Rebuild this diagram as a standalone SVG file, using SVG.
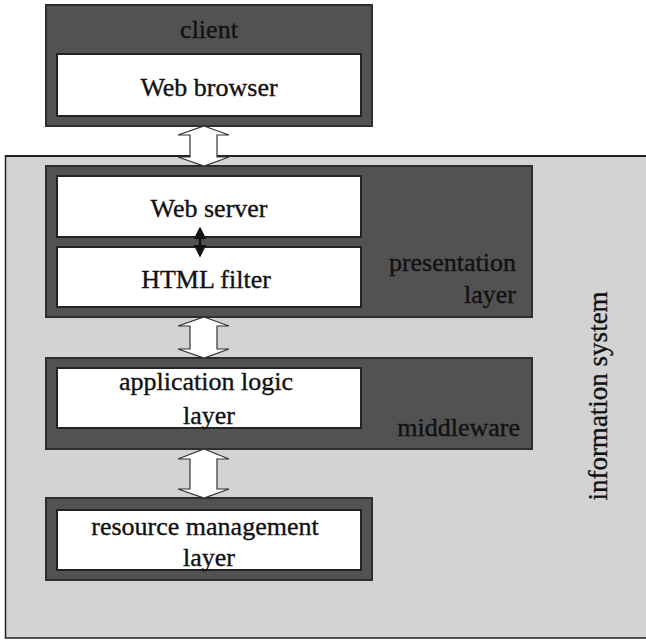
<svg xmlns="http://www.w3.org/2000/svg" width="646" height="640" viewBox="0 0 646 640">
<style>
.dark{fill:#525252;stroke:#2e2e2e;stroke-width:2}
.white{fill:#ffffff;stroke:#222222;stroke-width:2}
.t{font-family:"Liberation Serif","Times New Roman",serif;font-size:26px;fill:#111;stroke:#111;stroke-width:0.35}
.c{text-anchor:middle}
.r{text-anchor:end}
.blk{fill:#ffffff;stroke:#333333;stroke-width:1.2}
</style>
<defs>
<marker id="ah" viewBox="0 0 10 10" refX="8" refY="5" markerWidth="5" markerHeight="5" orient="auto-start-reverse"><path d="M0,0 L10,5 L0,10 z" fill="#111"/></marker>
</defs>
<rect width="646" height="640" fill="#ffffff"/>
<g id="information-system">
<rect x="5.5" y="156" width="650" height="482" fill="#d3d3d3" stroke="#222" stroke-width="1.5"/>
<line x1="5" y1="156" x2="646" y2="156" stroke="#222" stroke-width="2"/>
<text class="t c" transform="translate(607,396) rotate(-90)" style="font-size:27px">information system</text>
</g>
<g id="client">
<rect class="dark" x="46" y="5" width="326" height="121"/>
<text class="t c" x="209" y="38">client</text>
</g>
<g id="web-browser">
<rect class="white" x="57" y="54" width="304" height="62"/>
<text class="t c" x="209" y="96">Web browser</text>
</g>
<g id="presentation-layer">
<rect class="dark" x="46" y="166" width="486" height="151"/>
<text class="t r" x="516" y="271">presentation</text>
<text class="t r" x="516" y="303">layer</text>
</g>
<g id="web-server">
<rect class="white" x="57" y="176" width="304" height="61"/>
<text class="t c" x="209" y="217">Web server</text>
</g>
<g id="html-filter">
<rect class="white" x="57" y="247" width="304" height="60"/>
<text class="t c" x="206" y="288">HTML filter</text>
</g>
<g id="middleware">
<rect class="dark" x="46" y="358" width="486" height="91"/>
<text class="t r" x="520" y="436">middleware</text>
</g>
<g id="application-logic-layer">
<rect class="white" x="57" y="368" width="304" height="60"/>
<text class="t c" x="206" y="390">application logic</text>
<text class="t c" x="209" y="424">layer</text>
</g>
<g id="resource-management">
<rect class="dark" x="46" y="498" width="326" height="82"/>
</g>
<g id="resource-management-layer">
<rect class="white" x="57" y="510" width="304" height="60"/>
<text class="t c" x="205" y="535">resource management</text>
<text class="t c" x="209" y="566">layer</text>
</g>
<g id="connectors">
<path class="blk" d="M204,126 L229,135 L217,135 L217,157 L229,157 L204,166 L178,157 L190,157 L190,135 L178,135 Z"/>
<path class="blk" d="M204,317 L229,326 L217,326 L217,349 L229,349 L204,358 L178,349 L190,349 L190,326 L178,326 Z"/>
<path class="blk" d="M204,449 L229,459 L217,459 L217,489 L229,489 L204,498 L178,489 L190,489 L190,459 L178,459 Z"/>
<line x1="200" y1="229" x2="200" y2="255" stroke="#111" stroke-width="2.5" marker-start="url(#ah)" marker-end="url(#ah)"/>
</g>
</svg>
